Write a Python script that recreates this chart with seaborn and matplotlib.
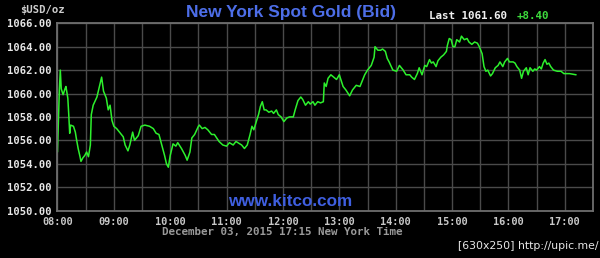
import matplotlib
matplotlib.use("Agg")
import matplotlib.pyplot as plt
import matplotlib.dates as mdates
import seaborn as sns
import pandas as pd

times = ["08:00", "08:02", "08:03", "08:04", "08:06", "08:08", "08:09", "08:11", "08:12", "08:13",
         "08:14", "08:17", "08:19", "08:20", "08:22", "08:24", "08:25", "08:27", "08:29", "08:31",
         "08:33", "08:35", "08:36", "08:38", "08:42", "08:45", "08:47", "08:49", "08:50", "08:52",
         "08:54", "08:56", "08:58", "09:00", "09:03", "09:06", "09:10", "09:12", "09:15", "09:17",
         "09:20", "09:22", "09:26", "09:29", "09:33", "09:38", "09:42", "09:45", "09:48", "09:51",
         "09:54", "09:56", "09:58", "10:00", "10:03", "10:06", "10:08", "10:12", "10:16", "10:18",
         "10:21", "10:23", "10:26", "10:30", "10:31", "10:34", "10:37", "10:40", "10:44", "10:47",
         "10:52", "10:56", "11:00", "11:03", "11:07", "11:10", "11:14", "11:16", "11:19", "11:22",
         "11:25", "11:27", "11:29", "11:32", "11:34", "11:36", "11:38", "11:40", "11:42", "11:45",
         "11:48", "11:50", "11:53", "11:55", "11:58", "12:01", "12:04", "12:07", "12:11", "12:13",
         "12:16", "12:19", "12:21", "12:24", "12:27", "12:29", "12:32", "12:34", "12:37", "12:40",
         "12:43", "12:44", "12:46", "12:48", "12:51", "12:54", "12:57", "13:00", "13:04", "13:07",
         "13:11", "13:14", "13:18", "13:22", "13:24", "13:27", "13:30", "13:34", "13:37", "13:38",
         "13:41", "13:44", "13:46", "13:49", "13:51", "13:53", "13:57", "14:01", "14:04", "14:08",
         "14:11", "14:15", "14:17", "14:20", "14:23", "14:25", "14:28", "14:31", "14:33", "14:36",
         "14:38", "14:40", "14:43", "14:45", "14:48", "14:51", "14:54", "14:55", "14:57", "14:59",
         "15:01", "15:03", "15:05", "15:08", "15:10", "15:13", "15:16", "15:18", "15:21", "15:24",
         "15:27", "15:29", "15:32", "15:34", "15:36", "15:38", "15:41", "15:43", "15:46", "15:49",
         "15:51", "15:54", "15:56", "15:59", "16:01", "16:05", "16:07", "16:09", "16:12", "16:14",
         "16:16", "16:19", "16:21", "16:23", "16:26", "16:28", "16:30", "16:33", "16:35", "16:37",
         "16:39", "16:41", "16:43", "16:45", "16:48", "16:52", "16:56", "16:59", "17:05", "17:12"]
prices = [1055.0, 1060.3, 1062.0, 1060.4, 1059.9, 1060.4, 1060.6, 1059.6, 1058.2, 1056.6,
          1057.3, 1057.2, 1056.7, 1056.2, 1055.3, 1054.6, 1054.2, 1054.5, 1054.7, 1055.0,
          1054.6, 1055.6, 1058.2, 1059.0, 1059.7, 1060.7, 1061.4, 1060.2, 1060.0, 1059.6,
          1058.6, 1059.0, 1057.7, 1057.2, 1057.0, 1056.7, 1056.3, 1055.6, 1055.1, 1055.6,
          1056.7, 1056.0, 1056.4, 1057.2, 1057.3, 1057.2, 1057.0, 1056.6, 1056.5, 1055.6,
          1054.7, 1054.0, 1053.7, 1054.7, 1055.7, 1055.5, 1055.8, 1055.3, 1054.7, 1054.3,
          1055.0, 1056.2, 1056.5, 1057.2, 1057.3, 1057.0, 1057.1, 1056.9, 1056.5, 1056.5,
          1055.9, 1055.6, 1055.5, 1055.8, 1055.6, 1055.9, 1055.7, 1055.6, 1055.3, 1055.6,
          1056.5, 1057.2, 1056.9, 1057.7, 1058.2, 1058.9, 1059.3, 1058.6, 1058.6, 1058.4,
          1058.5, 1058.3, 1058.6, 1058.2, 1058.0, 1057.6, 1057.9, 1058.0, 1058.0, 1058.6,
          1059.4, 1059.7, 1059.5, 1059.0, 1059.3, 1059.1, 1059.3, 1059.0, 1059.3, 1059.2,
          1059.3, 1060.9, 1060.6, 1061.3, 1061.6, 1061.4, 1061.2, 1061.6, 1060.6, 1060.3,
          1059.8, 1060.3, 1060.7, 1060.6, 1061.0, 1061.6, 1062.0, 1062.4, 1063.1, 1064.0,
          1063.7, 1063.7, 1063.8, 1063.6, 1063.0, 1062.7, 1062.0, 1061.9, 1062.4, 1062.0,
          1061.6, 1061.6, 1061.4, 1061.2, 1061.7, 1062.2, 1061.6, 1062.4, 1062.3, 1062.9,
          1062.6, 1062.7, 1062.3, 1062.8, 1063.1, 1063.3, 1063.6, 1064.1, 1064.7, 1064.6,
          1064.0, 1064.0, 1064.6, 1064.4, 1064.9, 1064.6, 1064.7, 1064.4, 1064.2, 1064.4,
          1064.3, 1064.0, 1063.4, 1062.3, 1061.9, 1062.0, 1061.5, 1061.7, 1062.2, 1062.4,
          1062.7, 1062.3, 1062.7, 1063.0, 1062.7, 1062.7, 1062.6, 1062.3, 1062.0, 1061.3,
          1061.9, 1062.2, 1061.6, 1062.2, 1061.9, 1062.1, 1062.0, 1062.3, 1062.1, 1062.6,
          1062.9, 1062.5, 1062.6, 1062.3, 1062.0, 1061.9, 1061.9, 1061.7, 1061.7, 1061.6]

y_ticks = [1050, 1052, 1054, 1056, 1058, 1060, 1062, 1064, 1066]
x_tick_labels = ["08:00", "09:00", "10:00", "11:00", "12:00", "13:00", "14:00", "15:00", "16:00", "17:00"]

title = "New York Spot Gold (Bid)"
unit_label = "$USD/oz"
last_text = "Last 1061.60"
change_text = "+8.40"
date_text = "December 03, 2015 17:15 New York Time"
watermark = "www.kitco.com"
corner_text = "[630x250] http://upic.me/"

day = "2015-12-03 "
df = pd.DataFrame({"time": pd.to_datetime([day + t for t in times]), "price": prices})

sns.set_theme(style="dark")
BG = "#000000"
GRID = "#4a4a4a"
MONO = "DejaVu Sans Mono"
fig = plt.figure(figsize=(6.0, 2.58), dpi=100, facecolor=BG)
ax = fig.add_axes([0.0958, 0.184, 0.8925, 0.7257])
ax.set_facecolor(BG)

sns.lineplot(data=df, x="time", y="price", ax=ax, color="#2df02d", linewidth=1.1)

ax.set_xlim(pd.Timestamp(day + "08:00"), pd.Timestamp(day + "17:30"))
ax.set_ylim(1050, 1066)
ax.set_yticks(y_ticks)
ax.set_yticklabels([f"{v:.2f}" for v in y_ticks])
ax.set_xticks([pd.Timestamp(day + t) for t in x_tick_labels])
ax.set_xticklabels(x_tick_labels)
ax.xaxis.set_minor_locator(mdates.MinuteLocator(byminute=[30]))
ax.grid(True, which="both", color=GRID, linewidth=1.0)
ax.set_axisbelow(True)
ax.tick_params(axis="both", which="both", length=0)
ax.tick_params(axis="y", pad=4, labelcolor="#e6e6e6", labelsize=7.6)
ax.tick_params(axis="x", pad=4.5, labelcolor="#c8c8c8", labelsize=7.4)
for lab in ax.get_yticklabels() + ax.get_xticklabels():
    lab.set_family(MONO)
    lab.set_weight("bold")
for s in ax.spines.values():
    s.set_visible(True)
    s.set_color("#6e6e6e")
    s.set_linewidth(1.3)
ax.set_xlabel("")
ax.set_ylabel("")

fig.text(291 / 600, 1 - 12 / 258, title, color="#4d6ee8", fontsize=12.5, fontweight="bold",
         family="Liberation Sans", ha="center", va="center")
fig.text(42 / 600, 1 - 10 / 258, unit_label, color="#cfcfcf", fontsize=7.6,
         family=MONO, fontweight="bold", ha="center", va="center")
fig.text(429 / 600, 1 - 16 / 258, last_text, color="#f0f0f0", fontsize=7.8,
         family=MONO, fontweight="bold", ha="left", va="center")
fig.text(517 / 600, 1 - 16 / 258, change_text, color="#3ddc3d", fontsize=7.8,
         family=MONO, fontweight="bold", ha="left", va="center")
fig.text(282 / 600, 1 - 232.5 / 258, date_text, color="#9a9a9a", fontsize=7.8,
         family=MONO, fontweight="bold", ha="center", va="center")
fig.text(290 / 600, 1 - 202 / 258, watermark, color="#3f5fe0", fontsize=12.3, fontweight="bold",
         family="Liberation Sans", ha="center", va="center")
fig.text(598 / 600, 1 - 246 / 258, corner_text, color="#e8e8e8", fontsize=7.8,
         family="DejaVu Sans", ha="right", va="center")

fig.savefig("out.png", dpi=100, facecolor=BG)
